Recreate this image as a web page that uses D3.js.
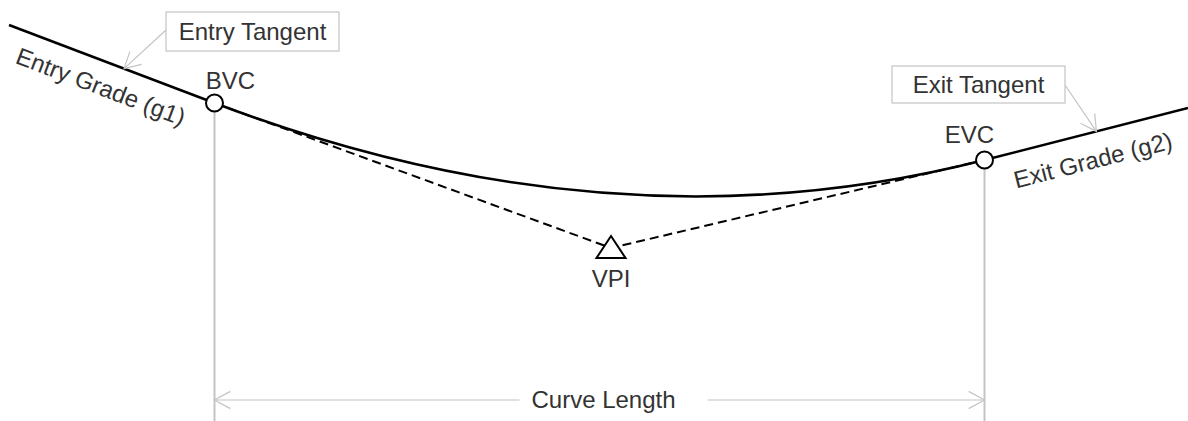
<!DOCTYPE html>
<html>
<head>
<meta charset="utf-8">
<script src="https://cdn.jsdelivr.net/npm/d3@7"></script>
<style>
  html, body { margin: 0; padding: 0; background: #fff; }
  svg { display: block; font-family: "Liberation Sans", Arial, sans-serif; }
</style>
</head>
<body>
<svg id="chart" width="1188" height="421"></svg>
<script>
// ---- data (station along road, elevation) ----
const pointNames  = ["Entry", "BVC", "VPI", "EVC", "Exit"];
const stations    = [9, 214.5, 611, 984.5, 1188];
const elevations  = [396, 318, 173, 261, 313];
const gradeLabels = ["Entry Grade (g1)", "Exit Grade (g2)"];
const tangentLabels = ["Entry Tangent", "Exit Tangent"];
const dimensionLabel = "Curve Length";

const W = 1188, H = 421;
const svg = d3.select("#chart");
const x = d3.scaleLinear().domain([0, 1188]).range([0, W]);
const y = d3.scaleLinear().domain([0, 421]).range([H, 0]);

const P = pointNames.map((n, i) => ({ name: n, x: x(stations[i]), y: y(elevations[i]) }));
const [pStart, pBVC, pVPI, pEVC, pEnd] = P;

const grey = "#c4c4c4";
const textCol = "#333";
const fs = 24;

// tangent intersection -> parabola control point
function intersect(a1, a2, b1, b2) {
  const s1 = (a2.y - a1.y) / (a2.x - a1.x), s2 = (b2.y - b1.y) / (b2.x - b1.x);
  const xi = (b1.y - a1.y + s1 * a1.x - s2 * b1.x) / (s1 - s2);
  return { x: xi, y: a1.y + s1 * (xi - a1.x) };
}
const ctrl = intersect(pStart, pBVC, pEnd, pEVC);

function chevron(g, tip, angle) {
  const L = 18, spread = 0.5;
  const a1 = angle + Math.PI - spread, a2 = angle + Math.PI + spread;
  const p = d3.path();
  p.moveTo(tip.x + L * Math.cos(a1), tip.y + L * Math.sin(a1));
  p.lineTo(tip.x, tip.y);
  p.lineTo(tip.x + L * Math.cos(a2), tip.y + L * Math.sin(a2));
  g.append("path").attr("d", p.toString()).attr("fill", "none")
    .attr("stroke", grey).attr("stroke-width", 1.2);
}

// extension lines
const r = 8.5;
[pBVC, pEVC].forEach(p => {
  svg.append("line").attr("x1", p.x).attr("x2", p.x)
    .attr("y1", p.y + r).attr("y2", H)
    .attr("stroke", grey).attr("stroke-width", 2);
});

// dimension line
const dimY = 400;
const dimMid = (pBVC.x + pEVC.x) / 2 + 4;
svg.append("line").attr("x1", pBVC.x).attr("x2", dimMid - 84).attr("y1", dimY).attr("y2", dimY)
  .attr("stroke", grey).attr("stroke-width", 1.2);
svg.append("line").attr("x1", dimMid + 104).attr("x2", pEVC.x).attr("y1", dimY).attr("y2", dimY)
  .attr("stroke", grey).attr("stroke-width", 1.2);
chevron(svg, { x: pBVC.x, y: dimY }, Math.PI);
chevron(svg, { x: pEVC.x, y: dimY }, 0);
svg.append("text").attr("x", dimMid).attr("y", dimY).attr("dy", "0.35em")
  .attr("text-anchor", "middle").attr("font-size", fs).attr("fill", textCol).text(dimensionLabel);

// dashed chords to VPI
svg.append("path")
  .attr("d", d3.line().x(d => d.x).y(d => d.y)([pBVC, pVPI, pEVC]))
  .attr("fill", "none").attr("stroke", "#000").attr("stroke-width", 2)
  .attr("stroke-dasharray", "9,5");

// tangents
svg.append("line").attr("x1", pStart.x).attr("y1", pStart.y).attr("x2", pBVC.x).attr("y2", pBVC.y)
  .attr("stroke", "#000").attr("stroke-width", 2.5);
svg.append("line").attr("x1", pEVC.x).attr("y1", pEVC.y).attr("x2", pEnd.x).attr("y2", pEnd.y)
  .attr("stroke", "#000").attr("stroke-width", 2.5);

// vertical curve
const cp = d3.path();
cp.moveTo(pBVC.x, pBVC.y);
cp.quadraticCurveTo(ctrl.x, ctrl.y, pEVC.x, pEVC.y);
svg.append("path").attr("d", cp.toString()).attr("fill", "none")
  .attr("stroke", "#000").attr("stroke-width", 2.5);

// BVC / EVC circles
[pBVC, pEVC].forEach(p => {
  svg.append("circle").attr("cx", p.x).attr("cy", p.y).attr("r", r)
    .attr("fill", "#fff").attr("stroke", "#000").attr("stroke-width", 2);
});

// VPI triangle
const tri = d3.path();
tri.moveTo(pVPI.x, pVPI.y - 12);
tri.lineTo(pVPI.x + 14.5, pVPI.y + 10);
tri.lineTo(pVPI.x - 14.5, pVPI.y + 10);
tri.closePath();
svg.append("path").attr("d", tri.toString()).attr("fill", "#fff")
  .attr("stroke", "#000").attr("stroke-width", 2);

// point labels
svg.append("text").attr("x", pBVC.x + 16).attr("y", pBVC.y - 14)
  .attr("text-anchor", "middle").attr("font-size", fs).attr("fill", textCol).text(pBVC.name);
svg.append("text").attr("x", pEVC.x - 15).attr("y", pEVC.y - 17)
  .attr("text-anchor", "middle").attr("font-size", fs).attr("fill", textCol).text(pEVC.name);
svg.append("text").attr("x", pVPI.x).attr("y", pVPI.y + 39)
  .attr("text-anchor", "middle").attr("font-size", fs).attr("fill", textCol).text(pVPI.name);

// grade labels rotated along tangents
function gradeLabel(a, b, t, off, label) {
  const ang = Math.atan2(b.y - a.y, b.x - a.x) * 180 / Math.PI;
  const px = a.x + (b.x - a.x) * t, py = a.y + (b.y - a.y) * t;
  const rad = ang * Math.PI / 180;
  const cx = px - Math.sin(rad) * off, cy = py + Math.cos(rad) * off;
  svg.append("text").attr("transform", `translate(${cx},${cy}) rotate(${ang})`)
    .attr("text-anchor", "middle").attr("dy", "0.35em")
    .attr("font-size", fs).attr("fill", textCol).text(label);
}
gradeLabel(pStart, pBVC, 0.49, 25, gradeLabels[0]);
gradeLabel(pEVC, pEnd, 0.50, 27, gradeLabels[1]);

// tangent callouts
function callout(bx, by, bw, bh, label, from, tip) {
  svg.append("line").attr("x1", from.x).attr("y1", from.y).attr("x2", tip.x).attr("y2", tip.y)
    .attr("stroke", grey).attr("stroke-width", 1.2);
  chevron(svg, tip, Math.atan2(tip.y - from.y, tip.x - from.x));
  svg.append("rect").attr("x", bx).attr("y", by).attr("width", bw).attr("height", bh)
    .attr("fill", "#fff").attr("stroke", grey).attr("stroke-width", 1.2);
  svg.append("text").attr("x", bx + bw / 2).attr("y", by + bh / 2).attr("dy", "0.35em")
    .attr("text-anchor", "middle").attr("font-size", fs).attr("fill", textCol).text(label);
}
const tipEntry = { x: pStart.x + (pBVC.x - pStart.x) * 0.56, y: pStart.y + (pBVC.y - pStart.y) * 0.56 };
const tipExit  = { x: pEVC.x + (pEnd.x - pEVC.x) * 0.55, y: pEVC.y + (pEnd.y - pEVC.y) * 0.55 };
callout(166, 12, 173, 39, tangentLabels[0], { x: 166, y: 30 }, tipEntry);
callout(892, 66, 173, 37, tangentLabels[1], { x: 1065, y: 85 }, tipExit);
</script>
</body>
</html>
